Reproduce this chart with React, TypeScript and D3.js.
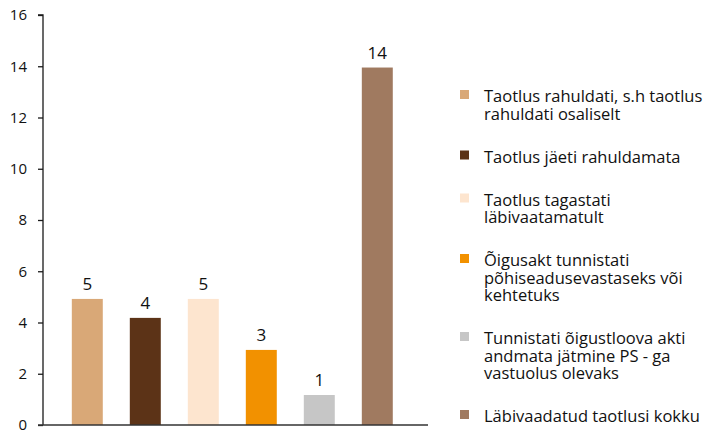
import React, { useEffect, useRef } from "react";
import * as d3 from "d3";

// bar heights as drawn, and the labels printed above them
const categories = ["rahuldati", "jaeti", "tagastati", "oigusakt", "tunnistati", "kokku"];
const values = [4.92, 4.18, 4.92, 2.93, 1.17, 13.95];
const valueLabels = ["5", "4", "5", "3", "1", "14"];
const colors = ["#d9a877", "#5c3317", "#fde5cf", "#f29100", "#c6c6c6", "#a07a60"];
const legendLines = [
  ["Taotlus rahuldati, s.h taotlus", "rahuldati osaliselt"],
  ["Taotlus jäeti rahuldamata"],
  ["Taotlus tagastati", "läbivaatamatult"],
  ["Õigusakt tunnistati", "põhiseadusevastaseks või", "kehtetuks"],
  ["Tunnistati õigustloova akti", "andmata jätmine PS - ga", "vastuolus olevaks"],
  ["Läbivaadatud taotlusi kokku"],
];
const yTicks = [0, 2, 4, 6, 8, 10, 12, 14, 16];

const W = 705;
const H = 433;
const FONT = "'Open Sans', sans-serif";

export default function App() {
  const ref = useRef<SVGSVGElement>(null);

  useEffect(() => {
    const svg = d3.select(ref.current);
    svg.selectAll("*").remove();

    const x = d3.scaleBand().domain(categories).range([43, 428]).paddingInner(0.466).paddingOuter(0.552).align(0.45);
    const y = d3.scaleLinear().domain([0, 16]).range([425, 15]);

    // bars
    svg.append("g").selectAll("rect").data(values).enter().append("rect")
      .attr("x", (d, i) => x(categories[i])!)
      .attr("y", (d) => y(d))
      .attr("width", x.bandwidth())
      .attr("height", (d) => y(0) - y(d))
      .style("fill", (d, i) => colors[i]);

    svg.append("g").selectAll("text").data(values).enter().append("text")
      .attr("x", (d, i) => x(categories[i])! + x.bandwidth() / 2)
      .attr("y", (d) => y(d) - 9)
      .attr("text-anchor", "middle")
      .style("font-family", FONT).style("font-size", "17px").style("fill", "#111")
      .text((d, i) => valueLabels[i]);

    // y axis
    const yAxis = svg.append("g").attr("transform", "translate(43,0)")
      .call(d3.axisLeft(y).tickValues(yTicks).tickSize(5).tickPadding(11));
    yAxis.select(".domain").attr("stroke", "#1a1a1a").attr("stroke-width", 1.3).attr("d", "M-5,15H0V425");
    yAxis.selectAll(".tick line").attr("stroke", "#1a1a1a").attr("stroke-width", 1.3);
    yAxis.selectAll(".tick text").style("font-family", FONT).style("font-size", "15px").style("fill", "#111");

    // x baseline
    svg.append("line").attr("x1", 38).attr("x2", 428).attr("y1", y(0)).attr("y2", y(0))
      .attr("stroke", "#333").attr("stroke-width", 1.5);

    // legend
    const lineH = 17.5;
    const gap = 43;
    let yy = 102;
    legendLines.forEach((lines, i) => {
      const g = svg.append("g");
      g.append("rect").attr("x", 460).attr("y", yy - 12).attr("width", 9).attr("height", 9).style("fill", colors[i]);
      const t = g.append("text").attr("x", 484).attr("y", yy)
        .style("font-family", FONT).style("font-size", "16.5px").style("fill", "#111");
      lines.forEach((l, j) => {
        t.append("tspan").attr("x", 484).attr("y", yy + j * lineH).text(l);
      });
      yy += (lines.length - 1) * lineH + gap;
    });
  }, []);

  return (
    <div>
      <svg ref={ref} width={W} height={H} style={{ position: "absolute", left: 0, top: 0 }}></svg>
    </div>
  );
}
